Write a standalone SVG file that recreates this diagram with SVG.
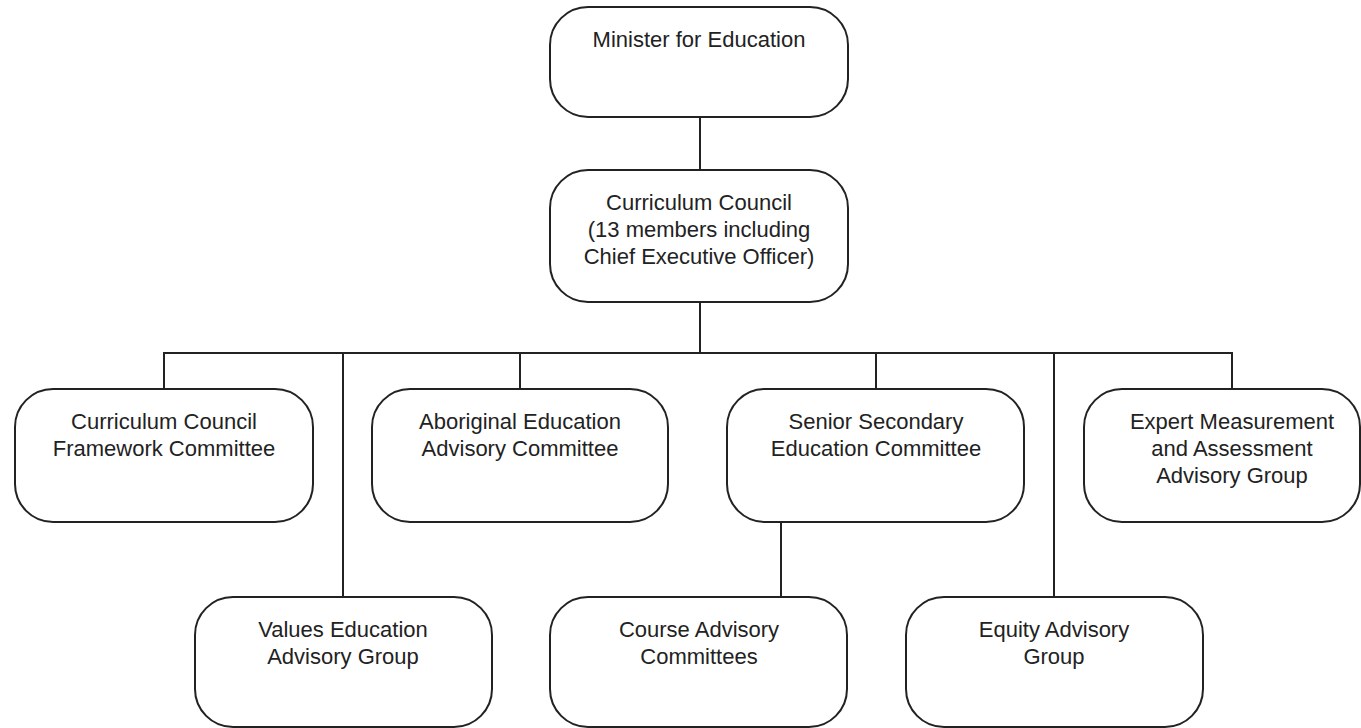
<svg xmlns="http://www.w3.org/2000/svg" width="1361" height="728" viewBox="0 0 1361 728">
<style>
.box{fill:#fff;stroke:#222;stroke-width:2}
.lbl{font-family:"Liberation Sans",Arial,sans-serif;font-size:22px;fill:#222;text-anchor:middle}
.conn{fill:none;stroke:#222;stroke-width:2}
</style>
<rect width="1361" height="728" fill="#fff"/>
<g id="connectors">
<line class="conn" x1="700" y1="117" x2="700" y2="170"/>
<line class="conn" x1="700" y1="302" x2="700" y2="353"/>
<line class="conn" x1="163" y1="353" x2="1233" y2="353"/>
<line class="conn" x1="164" y1="353" x2="164" y2="389"/>
<line class="conn" x1="343" y1="353" x2="343" y2="597"/>
<line class="conn" x1="520" y1="353" x2="520" y2="389"/>
<line class="conn" x1="876" y1="353" x2="876" y2="389"/>
<line class="conn" x1="1054" y1="353" x2="1054" y2="597"/>
<line class="conn" x1="1232" y1="353" x2="1232" y2="389"/>
<line class="conn" x1="781" y1="522" x2="781" y2="597"/>
</g>
<g id="minister">
<rect class="box" x="550" y="7" width="298" height="110" rx="38"/>
<text class="lbl" x="699" y="47">Minister for Education</text>
</g>
<g id="council">
<rect class="box" x="550" y="170" width="298" height="132" rx="38"/>
<text class="lbl" x="699" y="210">Curriculum Council</text>
<text class="lbl" x="699" y="237">(13 members including</text>
<text class="lbl" x="699" y="264">Chief Executive Officer)</text>
</g>
<g id="framework">
<rect class="box" x="15" y="389" width="298" height="133" rx="38"/>
<text class="lbl" x="164" y="429">Curriculum Council</text>
<text class="lbl" x="164" y="456">Framework Committee</text>
</g>
<g id="aboriginal">
<rect class="box" x="372" y="389" width="296" height="133" rx="38"/>
<text class="lbl" x="520" y="429">Aboriginal Education</text>
<text class="lbl" x="520" y="456">Advisory Committee</text>
</g>
<g id="senior">
<rect class="box" x="727" y="389" width="297" height="133" rx="38"/>
<text class="lbl" x="876" y="429">Senior Secondary</text>
<text class="lbl" x="876" y="456">Education Committee</text>
</g>
<g id="expert">
<rect class="box" x="1084" y="389" width="276" height="133" rx="38"/>
<text class="lbl" x="1232" y="429">Expert Measurement</text>
<text class="lbl" x="1232" y="456">and Assessment</text>
<text class="lbl" x="1232" y="483">Advisory Group</text>
</g>
<g id="values">
<rect class="box" x="195" y="597" width="297" height="130" rx="38"/>
<text class="lbl" x="343" y="637">Values Education</text>
<text class="lbl" x="343" y="664">Advisory Group</text>
</g>
<g id="course">
<rect class="box" x="550" y="597" width="297" height="130" rx="38"/>
<text class="lbl" x="699" y="637">Course Advisory</text>
<text class="lbl" x="699" y="664">Committees</text>
</g>
<g id="equity">
<rect class="box" x="906" y="597" width="297" height="130" rx="38"/>
<text class="lbl" x="1054" y="637">Equity Advisory</text>
<text class="lbl" x="1054" y="664">Group</text>
</g>
</svg>
